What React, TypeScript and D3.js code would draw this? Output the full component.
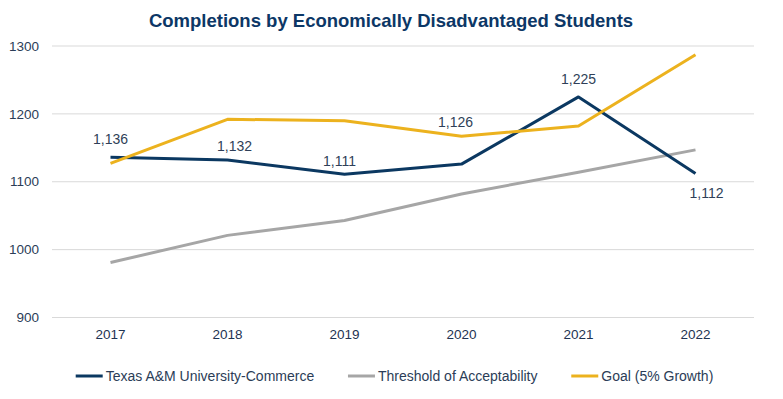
import * as d3 from "d3";

const years = ["2017", "2018", "2019", "2020", "2021", "2022"];
const tamuc = [1136, 1132, 1111, 1126, 1225, 1112];
const threshold = [981, 1021, 1043, 1082, 1114, 1147];
const goal = [1127, 1192, 1190, 1167, 1182, 1287];
const yTicks = [900, 1000, 1100, 1200, 1300];

const seriesNames = ["Texas A&M University-Commerce", "Threshold of Acceptability", "Goal (5% Growth)"];
const seriesColors = ["#0b3861", "#a6a6a6", "#ecb21e"];

// hand-placed data label nudges, like in the original workbook
const labelNudge: [number, number][] = [
  [0, -18],
  [7, -14],
  [-5, -13],
  [-6, -42],
  [0, -18],
  [11, 19],
];

const FONT = "'Liberation Sans', Arial, sans-serif";

const measure = (text: string, size: number) => {
  const ctx = document.createElement("canvas").getContext("2d");
  if (!ctx) return text.length * size * 0.5;
  ctx.font = `${size}px ${FONT}`;
  return ctx.measureText(text).width;
};

const App = () => {
  const width = 783;
  const height = 399;
  const plot = { left: 52, right: 754, top: 46, bottom: 317.5 };

  const x = d3.scaleBand().domain(years).range([plot.left, plot.right]);
  const y = d3.scaleLinear().domain([900, 1300]).range([plot.bottom, plot.top]);
  const cx = (yr: string) => (x(yr) ?? 0) + x.bandwidth() / 2;

  const line = d3
    .line<number>()
    .x((_, i) => cx(years[i]))
    .y((d) => y(d));

  const series = [tamuc, threshold, goal];
  // draw order: threshold, TAMUC, goal on top
  const drawOrder = [1, 0, 2];

  // legend layout
  const swatch = 27;
  const gap = 3;
  const itemGap = 33;
  const legendFont = 14;
  const itemWidths = seriesNames.map((n) => swatch + gap + measure(n, legendFont));
  const legendTotal = d3.sum(itemWidths) + itemGap * (seriesNames.length - 1);
  let lx = 394.5 - legendTotal / 2;
  const legendX = itemWidths.map((w) => {
    const p = lx;
    lx += w + itemGap;
    return p;
  });

  return (
    <svg
      width={width}
      height={height}
      style={{ position: "absolute", left: 0, top: 0, background: "#fff" }}
      fontFamily={FONT}
    >
      <rect width={width} height={height} fill="#fff" />
      <text x={391} y={27} textAnchor="middle" fontSize={18.5} fontWeight="bold" fill="#0c3766">
        Completions by Economically Disadvantaged Students
      </text>

      {yTicks.map((t) => (
        <g key={t}>
          <line x1={plot.left} x2={plot.right} y1={y(t)} y2={y(t)} stroke="#d9d9d9" strokeWidth={1} />
          <text x={39} y={y(t)} dy="0.35em" textAnchor="end" fontSize={13.5} fill="#2b3d57">
            {t}
          </text>
        </g>
      ))}

      {years.map((yr) => (
        <text key={yr} x={cx(yr)} y={339} textAnchor="middle" fontSize={13.5} fill="#1e3352">
          {yr}
        </text>
      ))}

      {drawOrder.map((si) => (
        <path
          key={si}
          d={line(series[si]) ?? ""}
          fill="none"
          stroke={seriesColors[si]}
          strokeWidth={3}
          strokeLinejoin="round"
        />
      ))}

      {tamuc.map((v, i) => (
        <text
          key={i}
          x={cx(years[i]) + labelNudge[i][0]}
          y={y(v) + labelNudge[i][1]}
          dy="0.35em"
          textAnchor="middle"
          fontSize={14}
          fill="#2f3f58"
        >
          {d3.format(",")(v)}
        </text>
      ))}

      {seriesNames.map((n, i) => (
        <g key={n} transform={`translate(${legendX[i]}, 376)`}>
          <line x1={0} x2={swatch} y1={0} y2={0} stroke={seriesColors[i]} strokeWidth={3} />
          <text x={swatch + gap} y={0} dy="0.35em" fontSize={legendFont} fill="#2b3d57">
            {n}
          </text>
        </g>
      ))}
    </svg>
  );
};

export default App;
